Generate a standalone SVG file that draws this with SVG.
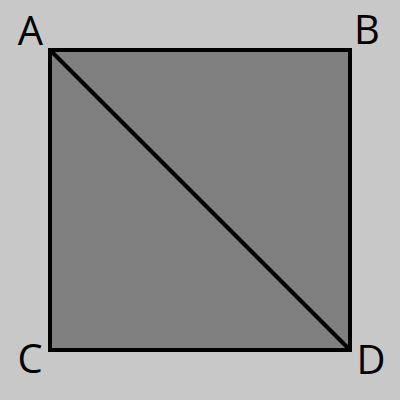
<svg xmlns="http://www.w3.org/2000/svg" width="400" height="400" viewBox="0 0 400 400">
<style>
.lbl{font-family:"Open Sans","Noto Sans","Liberation Sans",sans-serif;font-size:40px;fill:#000;text-anchor:middle}
.edge{stroke:#000;stroke-width:4;fill:none}
</style>
<rect x="0" y="0" width="400" height="400" fill="#c8c8c8"/>
<g id="square"><rect x="50" y="50" width="300" height="300" fill="#808080" stroke="#000" stroke-width="4"/></g>
<g id="connectors"><line class="edge" x1="50" y1="50" x2="350" y2="350"/></g>
<g id="A"><text class="lbl" x="30.5" y="45">A</text></g>
<g id="B"><text class="lbl" x="367" y="44">B</text></g>
<g id="C"><text class="lbl" x="30" y="373">C</text></g>
<g id="D"><text class="lbl" x="371" y="374">D</text></g>
</svg>
